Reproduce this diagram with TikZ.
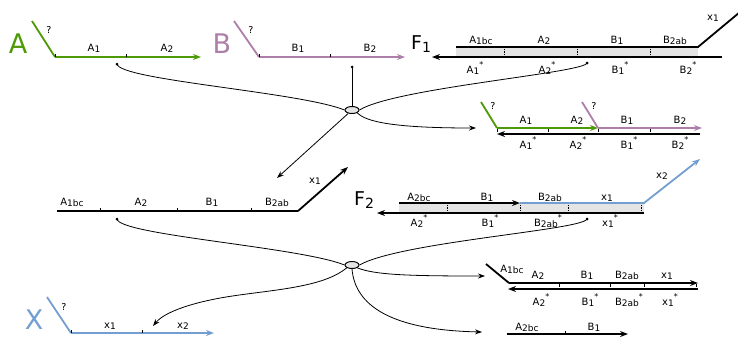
\documentclass[tikz,border=0pt]{standalone}
\usepackage{fontspec}
\setmainfont{DejaVu Sans}
\usetikzlibrary{arrows.meta,shapes.geometric}

\definecolor{strA}{HTML}{4E9A06}
\definecolor{strB}{HTML}{AD7FA8}
\definecolor{strX}{HTML}{729FCF}
\definecolor{duplex}{HTML}{E4E4E4}

% subscript and star for strand segment labels
\newcommand{\lsub}[1]{\raisebox{-0.35ex}{\fontsize{9}{9}\selectfont #1}}
\newcommand{\lstar}{\raisebox{1.0ex}{\fontsize{8}{8}\selectfont *}}
\newcommand{\fsub}[1]{\raisebox{-0.35ex}{\fontsize{14}{14}\selectfont #1}}

\tikzset{
  strand/.style={line width=1.8pt},
  tip/.style={-{Stealth[length=8pt,width=6pt]}},
  link/.style={line width=0.8pt},
  linktip/.style={-{Stealth[length=7pt,width=5pt]}},
  lbl/.style={font=\fontsize{10}{10}\selectfont, inner sep=0pt, anchor=base},
  qlbl/.style={font=\fontsize{9.5}{10}\selectfont, inner sep=0pt, anchor=base},
  big/.style={font=\fontsize{27}{27}\selectfont, inner sep=0pt, anchor=base},
  fname/.style={font=\fontsize{19}{19}\selectfont, inner sep=0pt, anchor=base},
  hub/.style={ellipse, draw, fill=duplex, minimum width=14pt, minimum height=7pt, inner sep=0pt, line width=1pt},
  dot/.style={circle, fill, inner sep=0pt, minimum size=3pt},
  tickmark/.style={line width=0.6pt},
  divider/.style={densely dotted, line width=0.8pt},
}

\begin{document}
\begin{tikzpicture}[x=1pt,y=-1pt]
\useasboundingbox (0,0) rectangle (738,341);

% ---------------- strand A ----------------
\coordinate (aT) at (32,21);
\coordinate (a0) at (55,57);
\coordinate (a1) at (126,57);
\coordinate (a2) at (201,57);
\draw[strand,strA] (aT) -- (a0);
\draw[strand,strA,tip] (a0) -- (a2);
\draw[tickmark] (a0) -- ++(0,-3) (a1) -- ++(0,-3);
\node[big,strA] (nA) at (18,53) {A};
\node[qlbl] (qA) at (49,33) {?};
\node[lbl] (lA1) at (94,51) {A\lsub{1}};
\node[lbl] (lA2) at (167,51) {A\lsub{2}};

% ---------------- strand B ----------------
\coordinate (bT) at (234,21);
\coordinate (b0) at (259,57);
\coordinate (b1) at (330,57);
\coordinate (b2) at (405,57);
\draw[strand,strB] (bT) -- (b0);
\draw[strand,strB,tip] (b0) -- (b2);
\draw[tickmark] (b0) -- ++(0,-3) (b1) -- ++(0,-3);
\node[big,strB] (nB) at (222,53) {B};
\node[qlbl] (qB) at (251,33) {?};
\node[lbl] (lB1) at (298,51) {B\lsub{1}};
\node[lbl] (lB2) at (370,51) {B\lsub{2}};

% ---------------- duplex F1 ----------------
\coordinate (f0) at (456,47);
\coordinate (f4) at (698,47);
\coordinate (fx) at (740,12);
\coordinate (g0) at (722,57);
\coordinate (g1) at (432,57);
\fill[duplex] (456,47) rectangle (698,57);
\foreach \x in {504,577,650} \draw[divider] (\x,47) -- (\x,57);
\draw[strand] (f0) -- (f4) -- (fx);
\draw[strand,tip] (g0) -- (g1);
\node[fname] (nF1) at (421,49) {F\fsub{1}};
\node[lbl] (f1a) at (481,43) {A\lsub{1bc}};
\node[lbl] (f1b) at (544,43) {A\lsub{2}};
\node[lbl] (f1c) at (617,43) {B\lsub{1}};
\node[lbl] (f1d) at (675,43) {B\lsub{2ab}};
\node[lbl] (f1x) at (713,20) {x\lsub{1}};
\node[lbl] (f1e) at (475,73) {A\lsub{1}\lstar};
\node[lbl] (f1f) at (547,73) {A\lsub{2}\lstar};
\node[lbl] (f1g) at (620,73) {B\lsub{1}\lstar};
\node[lbl] (f1h) at (688,73) {B\lsub{2}\lstar};

% ---------------- annealed A + B on template ----------------
\coordinate (cT) at (481,102);
\coordinate (c0) at (497,128);
\coordinate (c1) at (598,128);
\coordinate (dT) at (582,102);
\coordinate (c2) at (702,128);
\coordinate (e0) at (700,134);
\coordinate (e1) at (497,134);
\draw[strand,tip] (e0) -- (e1);
\draw[strand,strA] (cT) -- (c0);
\draw[strand,strA,tip] (c0) -- (c1);
\draw[strand,strB] (dT) -- (c1);
\draw[strand,strB,tip] (c1) -- (c2);
\foreach \x in {497,548,598,650} \draw[tickmark] (\x,129) -- (\x,132);
\node[qlbl] (qc1) at (493,109) {?};
\node[qlbl] (qc2) at (594,109) {?};
\node[lbl] (ca1) at (526,123) {A\lsub{1}};
\node[lbl] (ca2) at (577,123) {A\lsub{2}};
\node[lbl] (cb1) at (627,123) {B\lsub{1}};
\node[lbl] (cb2) at (680,123) {B\lsub{2}};
\node[lbl] (ca3) at (528,148) {A\lsub{1}\lstar};
\node[lbl] (ca4) at (578,148) {A\lsub{2}\lstar};
\node[lbl] (cb3) at (629,148) {B\lsub{1}\lstar};
\node[lbl] (cb4) at (680,148) {B\lsub{2}\lstar};

% ---------------- extended product ----------------
\coordinate (m0) at (57,211);
\coordinate (m1) at (298,211);
\coordinate (mx) at (348,167);
\draw[strand] (m0) -- (m1);
\draw[strand,tip] (m1) -- (mx);
\foreach \x in {100,177,251} \draw[tickmark] (\x,211) -- (\x,208);
\node[lbl] (ma) at (72,205) {A\lsub{1bc}};
\node[lbl] (mb) at (141,205) {A\lsub{2}};
\node[lbl] (mc) at (212,205) {B\lsub{1}};
\node[lbl] (md) at (277,205) {B\lsub{2ab}};
\node[lbl] (mxl) at (315,183) {x\lsub{1}};

% ---------------- duplex F2 ----------------
\coordinate (p0) at (399,203);
\coordinate (p1) at (520,203);
\coordinate (p2) at (644,203);
\coordinate (px) at (700,159);
\coordinate (r0) at (644,213);
\coordinate (r1) at (377,213);
\fill[duplex] (399,203) rectangle (644,213);
\foreach \x in {447,520,568,641} \draw[divider] (\x,203) -- (\x,213);
\draw[strand,tip] (r0) -- (r1);
\draw[strand,strX,tip] (p1) -- (p2) -- (px);
\draw[strand,tip] (p0) -- (p1);
\node[fname] (nF2) at (364,205) {F\fsub{2}};
\node[lbl] (f2a) at (419,200) {A\lsub{2bc}};
\node[lbl] (f2b) at (487,200) {B\lsub{1}};
\node[lbl] (f2c) at (550,200) {B\lsub{2ab}};
\node[lbl] (f2d) at (607,200) {x\lsub{1}};
\node[lbl] (f2x) at (662,178) {x\lsub{2}};
\node[lbl] (f2e) at (419,226) {A\lsub{2}\lstar};
\node[lbl] (f2f) at (490,226) {B\lsub{1}\lstar};
\node[lbl] (f2g) at (548,226) {B\lsub{2ab}\lstar};
\node[lbl] (f2h) at (610,226) {x\lsub{1}\lstar};

% ---------------- lower right: partial duplex ----------------
\coordinate (sT) at (486,264);
\coordinate (s0) at (509,283);
\coordinate (s1) at (698,283);
\coordinate (t0) at (698,289);
\coordinate (t1) at (508,289);
\draw[strand] (sT) -- (s0);
\draw[strand,tip] (s0) -- (s1);
\draw[strand,tip] (t0) -- (t1);
\foreach \x in {559,610,644,696} \draw[tickmark] (\x,284) -- (\x,287);
\node[lbl] (sa) at (512,272) {A\lsub{1bc}};
\node[lbl] (sb) at (538,278) {A\lsub{2}};
\node[lbl] (sc) at (587,278) {B\lsub{1}};
\node[lbl] (sd) at (627,278) {B\lsub{2ab}};
\node[lbl] (se) at (667,278) {x\lsub{1}};
\node[lbl] (sf) at (541,305) {A\lsub{2}\lstar};
\node[lbl] (sg) at (590,305) {B\lsub{1}\lstar};
\node[lbl] (sh) at (629,305) {B\lsub{2ab}\lstar};
\node[lbl] (si) at (670,305) {x\lsub{1}\lstar};

% ---------------- lower right: short product ----------------
\coordinate (u0) at (507,334);
\coordinate (u1) at (565,334);
\coordinate (u2) at (628,334);
\draw[strand,tip] (u0) -- (u2);
\draw[tickmark] (u1) -- ++(0,-3);
\node[lbl] (ua) at (527,330) {A\lsub{2bc}};
\node[lbl] (ub) at (594,330) {B\lsub{1}};

% ---------------- strand X ----------------
\coordinate (xT) at (47,297);
\coordinate (x0) at (71,333);
\coordinate (x1) at (142,333);
\coordinate (x2) at (214,333);
\draw[strand,strX] (xT) -- (x0);
\draw[strand,strX,tip] (x0) -- (x2);
\draw[tickmark] (x0) -- ++(0,-3) (x1) -- ++(0,-3);
\node[big,strX] (nX) at (34,329) {X};
\node[qlbl] (qX) at (64,310) {?};
\node[lbl] (xa) at (110,328) {x\lsub{1}};
\node[lbl] (xb) at (183,328) {x\lsub{2}};

% ---------------- reaction hubs and links ----------------
\node[hub] (h1) at (352,110) {};
\node[hub] (h2) at (352,265) {};

\node[dot] (dA) at (117,64) {};
\node[dot] (dB) at (352,67) {};
\node[dot] (dF1) at (587,63) {};
\node[dot] (dM) at (117,219) {};
\node[dot] (dF2) at (587,219) {};

\coordinate (o1) at (476,128);
\coordinate (o2) at (277,178);
\coordinate (o3) at (485,276);
\coordinate (o4) at (482,332);
\coordinate (o5) at (153,326);

\draw[link] (dA.center) .. controls (119,80) and (300,92) .. (h1.west);
\draw[link] (dB.center) -- (h1.north);
\draw[link] (dF1.center) .. controls (584,73) and (395,88) .. (h1.east);
\draw[link,linktip] (h1.south east) .. controls (366,122) and (395,128) .. (o1);
\draw[link,linktip] (h1) -- (o2);

\draw[link] (dM.center) .. controls (119,235) and (300,247) .. (h2.west);
\draw[link] (dF2.center) .. controls (583,230) and (400,242) .. (h2.east);
\draw[link,linktip] (h2.south east) .. controls (375,275) and (410,276) .. (o3);
\draw[link,linktip] (h2.south) .. controls (355,305) and (390,330) .. (o4);
\draw[link,linktip] (h2.south west) .. controls (320,290) and (260,290) .. (215,299)
  .. controls (180,306) and (162,315) .. (o5);
\end{tikzpicture}
\end{document}
